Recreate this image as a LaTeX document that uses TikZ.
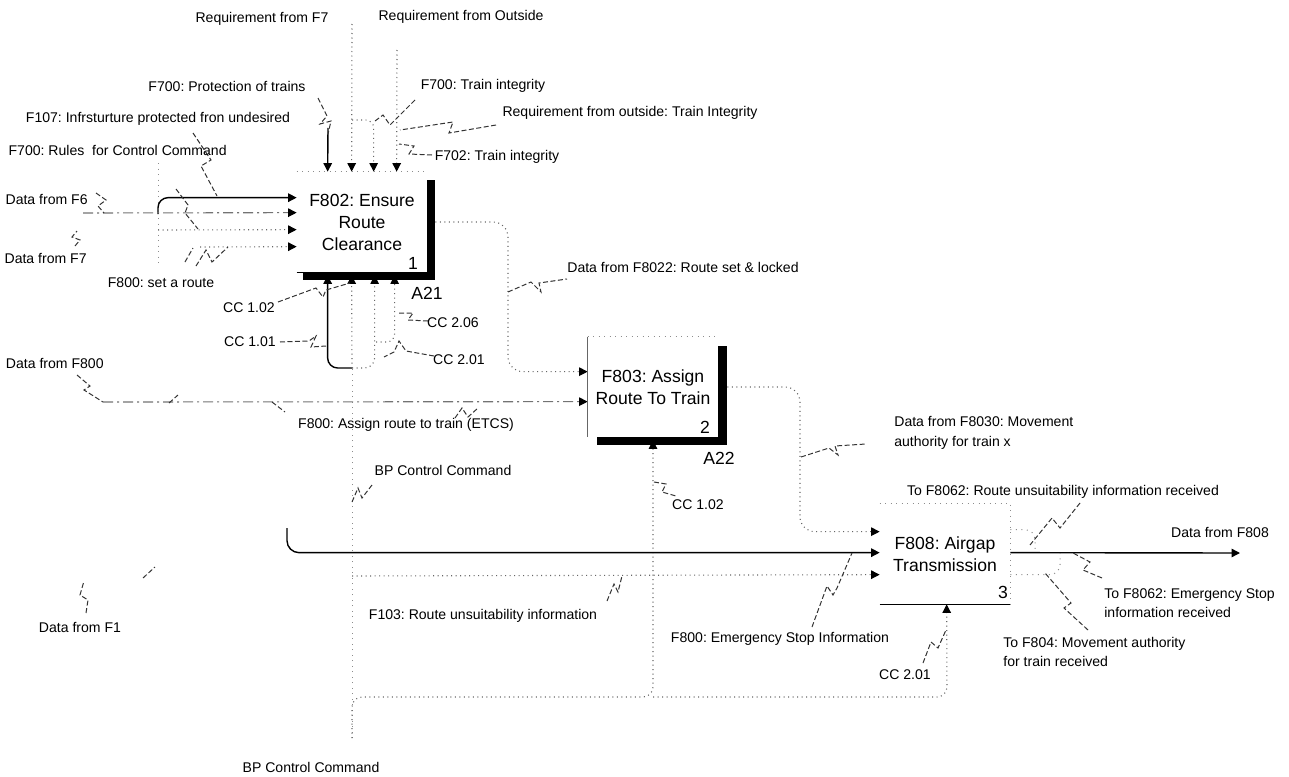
\documentclass[tikz,border=0pt]{standalone}
\usepackage{fontspec}
\setmainfont{Liberation Sans}
\usetikzlibrary{arrows.meta,calc}
\frenchspacing

\begin{document}
\begin{tikzpicture}[x=0.2mm,y=-0.2mm,
		fnbox/.style={minimum width=26mm, minimum height=20mm, inner sep=0pt,
			align=center, font=\fontsize{10}{12.5}\selectfont},
		boxnum/.style={inner sep=0pt, font=\fontsize{10}{12}\selectfont},
		lbl/.style={inner sep=0pt, font=\fontsize{8}{11}\selectfont},
		idtip/.style={-{Triangle[length=1.7mm,width=1.7mm,color=black]}},
		flow/.style={draw=black, line width=0.28mm, idtip},
		flowdot/.style={draw=black!60, line width=0.22mm, dash pattern=on 0.2mm off 0.7mm, idtip},
		flowdash/.style={draw=black!55, line width=0.22mm, dash pattern=on 2mm off 0.8mm on 0.4mm off 0.8mm, idtip},
		rim/.style={draw=black!45, line width=0.2mm, dash pattern=on 0.2mm off 0.9mm},
		squig/.style={draw=black!80, line width=0.2mm, dash pattern=on 1mm off 0.5mm}]
		\useasboundingbox (0,0) rectangle (1289,776);

		% activity boxes
		\node[fnbox] (b1) at (362,222) {F802: Ensure\\Route\\Clearance};
		\node[fnbox] (b2) at (653,387) {F803: Assign\\Route To Train};
		\node[fnbox] (b3) at (945,554) {F808: Airgap\\Transmission};

		% ports of box 1
		\coordinate (b1i1) at ($(b1.north west)+(0,26)$);
		\coordinate (b1i2) at ($(b1.north west)+(0,41)$);
		\coordinate (b1i3) at ($(b1.north west)+(0,58)$);
		\coordinate (b1i4) at ($(b1.north west)+(0,75)$);
		\coordinate (b1c1) at ($(b1.north west)+(31,0)$);
		\coordinate (b1c2) at ($(b1.north west)+(55,0)$);
		\coordinate (b1c3) at ($(b1.north west)+(77,0)$);
		\coordinate (b1c4) at ($(b1.north west)+(100,0)$);
		\coordinate (b1m1) at ($(b1.south west)+(31,3)$);
		\coordinate (b1m2) at ($(b1.south west)+(55,3)$);
		\coordinate (b1m3) at ($(b1.south west)+(78,3)$);
		\coordinate (b1m4) at ($(b1.south west)+(98,3)$);
		\coordinate (b1o) at ($(b1.east)+(8,0)$);

		% ports of box 2 and box 3
		\coordinate (b2i1) at ($(b2.north west)+(0,35)$);
		\coordinate (b2i2) at ($(b2.north west)+(0,65)$);
		\coordinate (b2m) at ($(b2.south)+(0,3)$);
		\coordinate (b2o) at ($(b2.east)+(9,0)$);
		\coordinate (b3i1) at ($(b3.north west)+(0,28)$);
		\coordinate (b3i2) at ($(b3.north west)+(0,49)$);
		\coordinate (b3i3) at ($(b3.north west)+(0,71)$);
		\coordinate (b3m) at ($(b3.south west)+(67,0)$);
		\coordinate (b3o1) at ($(b3.north east)+(0,26)$);
		\coordinate (b3o2) at ($(b3.north east)+(0,49)$);
		\coordinate (b3o3) at ($(b3.north east)+(0,71)$);

		% free ends and bends
		\coordinate (s1) at (158,214);
		\coordinate (s3) at (158,230);
		\coordinate (s4) at (200,247);
		\coordinate (dF6s) at (83,213);
		\coordinate (rF7) at (352,24);
		\coordinate (rOut) at (397,50);
		\coordinate (pT) at (328,128);
		\coordinate (fk) at (352,120);
		\coordinate (j1) at (352,368);
		\coordinate (j2) at (376,342);
		\coordinate (r1) at (508,300);
		\coordinate (dF800s) at (103,402);
		\coordinate (r2) at (800,460);
		\coordinate (bpS) at (352,738);
		\coordinate (k1) at (653,697);
		\coordinate (k2) at (947,697);
		\coordinate (f103s) at (352,576);
		\coordinate (esS) at (287,528);
		\coordinate (outE) at (1240,553);
		\coordinate (mg1) at (1035,553);
		\coordinate (mg2) at (1060,553);

		% inputs of box 1
		\draw[rim] (158,163) -- (158,265);
		\draw[flow, rounded corners=2mm] (s1) |- (b1i1);
		\draw[flowdash] (dF6s) -- (b1i2);
		\draw[flowdot] (s3) -- (b1i3);
		\draw[flowdot] (s4) -- (b1i4);

		% controls of box 1
		\draw[flow] (pT) -- (b1c1);
		\draw[flowdot] (rF7) -- (b1c2);
		\draw[flowdot, rounded corners=1.6mm] (fk) -| (b1c3);
		\draw[flowdot] (rOut) -- (b1c4);

		% mechanisms of box 1
		\draw[flow, rounded corners=2mm] (j1) -| (b1m1);
		\draw[flowdot] (j1) -- (b1m2);
		\draw[flowdot, rounded corners=2mm] (j1) -| (b1m3);
		\draw[flowdot, rounded corners=1.6mm] (j2) -| (b1m4);

		% BP control command bus
		\draw[rim] (bpS) -- (j1);
		\draw[flowdot, rounded corners=2mm] (bpS) |- (k1) -- (b2m);
		\draw[flowdot, rounded corners=2mm] (k1) -- (k2) -- (b3m);

		% box 1 to box 2, box 2 to box 3
		\draw[flowdot, rounded corners=3mm] (b1o) -| (r1) |- (b2i1);
		\draw[flowdash] (dF800s) -- (b2i2);
		\draw[flowdot, rounded corners=3mm] (b2o) -| (r2) |- (b3i1);
		\draw[flow, rounded corners=2.4mm] (esS) |- (b3i2);
		\draw[flowdot] (f103s) -- (b3i3);

		% outputs of box 3
		\draw[flow] (b3o2) -- (outE);
		\draw[rim, rounded corners=2mm] (b3o1) -| (mg1);
		\draw[rim, rounded corners=2mm] (b3o3) -| (mg2);

		% box outlines and shadows
		\draw[rim] (b1.north west) -- (b1.north east);
		\fill ($(b1.north east)+(0,8)$) rectangle ($(b1.south east)+(8,8)$);
		\fill ($(b1.south west)+(6,0)$) rectangle ($(b1.south east)+(8,8)$);
		\draw[line width=0.3mm] (b1.south west) -- ++(6,0);
		\draw[rim] (b2.north west) -- (b2.north east);
		\draw[black!60, line width=0.2mm] (b2.north west) -- (b2.south west);
		\fill ($(b2.north east)+(0,9)$) rectangle ($(b2.south east)+(9,8)$);
		\fill ($(b2.south west)+(9,0)$) rectangle ($(b2.south east)+(9,8)$);
		\draw[rim] (b3.north west) -- (b3.north east) -- (b3.south east);
		\draw[line width=0.25mm] (b3.south west) -- (b3.south east);

		% box numbers
		\node[boxnum] (n1) at (413,263) {1};
		\node[boxnum] (n2) at (705,427) {2};
		\node[boxnum] (n3) at (1003,592) {3};
		\node[boxnum] (a21) at (427,293) {A21};
		\node[boxnum] (a22) at (719,458) {A22};

		% squiggles
		\draw[squig] (318,98) -- (327,116) -- (320,124) -- (331,121) -- (328,134);
		\draw[squig] (415,100) -- (390,125) -- (383,115) -- (375,121);
		\draw[squig] (496,125) -- (449,133) -- (453,122) -- (400,130);
		\draw[squig] (432,155) -- (409,154) -- (414,146) -- (399,144);
		\draw[squig] (193,133) -- (211,160) -- (201,166) -- (217,196);
		\draw[squig] (176,189) -- (188,205) -- (185,213) -- (198,229);
		\draw[squig] (96,193) -- (106,200) -- (98,206) -- (104,213);
		\draw[squig] (75,246) -- (80,240) -- (72,237) -- (77,231);
		\draw[squig] (185,262) -- (193,248);
		\draw[squig] (196,266) -- (206,250) -- (212,262) -- (228,247);
		\draw[squig] (278,302) -- (316,288) -- (323,297) -- (326,290) -- (350,283);
		\draw[squig] (280,342) -- (309,341) -- (316,336) -- (311,347) -- (326,346);
		\draw[squig] (428,321) -- (408,320) -- (413,313) -- (398,313);
		\draw[squig] (434,356) -- (406,351) -- (399,341) -- (394,352) -- (384,357);
		\draw[squig] (508,292) -- (531,282) -- (541,292) -- (539,283) -- (567,279);
		\draw[squig] (77,375) -- (90,386) -- (84,390) -- (103,402);
		\draw[squig] (169,403) -- (178,395);
		\draw[squig] (272,402) -- (285,412);
		\draw[squig] (455,418) -- (462,408) -- (468,417) -- (478,408);
		\draw[squig] (352,502) -- (358,488) -- (362,498) -- (372,485);
		\draw[squig] (654,482) -- (666,484) -- (662,492) -- (676,496);
		\draw[squig] (801,457) -- (829,448) -- (838,455) -- (835,446) -- (866,444);
		\draw[squig] (607,601) -- (614,584) -- (618,592) -- (622,576);
		\draw[squig] (812,627) -- (827,586) -- (833,595) -- (837,588) -- (852,553);
		\draw[squig] (923,663) -- (931,642) -- (938,648) -- (946,630);
		\draw[squig] (1080,503) -- (1060,528) -- (1052,518) -- (1030,545);
		\draw[squig] (1102,578) -- (1083,570) -- (1090,562) -- (1073,553);
		\draw[squig] (1088,630) -- (1064,608) -- (1071,603) -- (1045,573);
		\draw[squig] (86,613) -- (88,600) -- (80,595) -- (84,581);
		\draw[squig] (143,578) -- (155,567);

		% labels
		\node[lbl] (reqF7) at (262,19) {Requirement from F7};
		\node[lbl] (reqOut) at (461,17) {Requirement from Outside};
		\node[lbl] (protT) at (227,86) {F700: Protection of trains};
		\node[lbl] (trInt) at (483,86) {F700: Train integrity};
		\node[lbl] (reqTI) at (630,113) {Requirement from outside: Train Integrity};
		\node[lbl] (infra) at (158,119) {F107: Infrsturture protected fron undesired};
		\node[lbl, anchor=east] (rules) at (227,150) {F700: Rules \ for Control Command};
		\node[lbl] (f702) at (497,157) {F702: Train integrity};
		\node[lbl, anchor=east] (dF6) at (88,199) {Data from F6};
		\node[lbl, anchor=east] (dF7) at (87,258) {Data from F7};
		\node[lbl] (setR) at (161,283) {F800: set a route};
		\node[lbl] (cc102a) at (249,308) {CC 1.02};
		\node[lbl] (cc101) at (250,342) {CC 1.01};
		\node[lbl] (cc206) at (453,323) {CC 2.06};
		\node[lbl] (cc201a) at (459,360) {CC 2.01};
		\node[lbl, anchor=east] (dF800) at (104,363) {Data from F800};
		\node[lbl] (assign) at (406,425) {F800: Assign route to train (ETCS)};
		\node[lbl] (bp1) at (443,470) {BP Control Command};
		\node[lbl] (dF8022) at (683,267) {Data from F8022: Route set \& locked};
		\node[lbl, anchor=west, align=left] (dF8030) at (894,433) {Data from F8030: Movement\\authority for train x};
		\node[lbl] (cc102b) at (698,505) {CC 1.02};
		\node[lbl] (toRU) at (1063,492) {To F8062: Route unsuitability information received};
		\node[lbl] (dF808) at (1220,532) {Data from F808};
		\node[lbl, anchor=west, align=left] (toES) at (1104,603) {To F8062: Emergency Stop\\information received};
		\node[lbl, anchor=west, align=left] (toF804) at (1003,652) {To F804: Movement authority\\for train received};
		\node[lbl] (f103) at (483,616) {F103: Route unsuitability information};
		\node[lbl] (emerg) at (780,639) {F800: Emergency Stop Information};
		\node[lbl] (cc201b) at (905,675) {CC 2.01};
		\node[lbl] (dF1) at (80,627) {Data from F1};
		\node[lbl] (bp2) at (311,767) {BP Control Command};
	\end{tikzpicture}
\end{document}
